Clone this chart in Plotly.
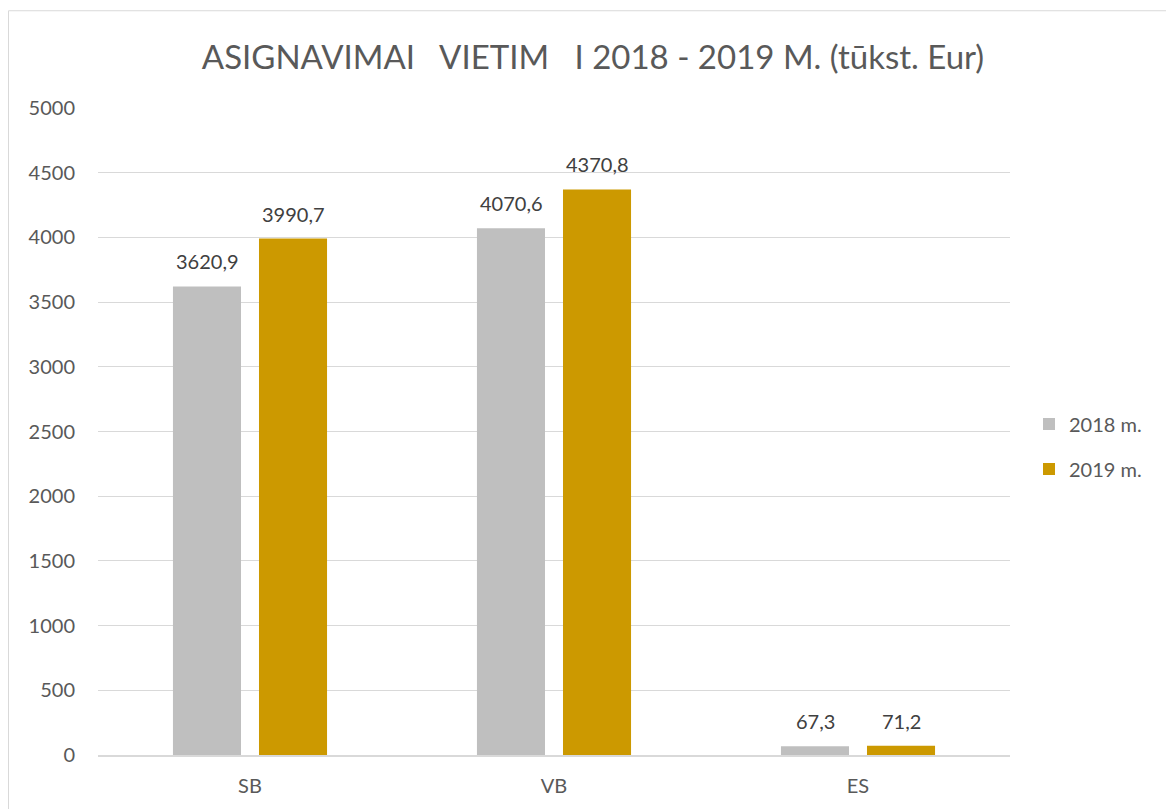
import plotly.graph_objects as go

categories = ["SB", "VB", "ES"]
series_names = ["2018 m.", "2019 m."]
values_2018 = [3620.9, 4070.6, 67.3]
values_2019 = [3990.7, 4370.8, 71.2]
colors = ["#bfbfbf", "#cc9900"]
tick_vals = [0, 500, 1000, 1500, 2000, 2500, 3000, 3500, 4000, 4500, 5000]

FONT = "Lato, Open Sans, sans-serif"

fig = go.Figure()
annotations = []
for i, (name, vals, col) in enumerate(zip(series_names, [values_2018, values_2019], colors)):
    fig.add_trace(go.Bar(
        x=categories, y=vals, name=name, marker=dict(color=col, line=dict(width=0)),
        legendgroup=name,
    ))
    for c, v in zip(categories, vals):
        annotations.append(dict(
            x=c, y=v, xref="x", yref="y", text=f"{v:.1f}".replace(".", ","),
            showarrow=False, xanchor="center", yanchor="bottom",
            xshift=(-43 if i == 0 else 43), yshift=11,
            font=dict(family=FONT, size=20, color="#404040"),
        ))

W, H = 1166, 801
ml, mr, mt, mb = 90, 164, 100, 49
pw = W - ml - mr
ph = H - mt - mb

fig.update_layout(
    width=W, height=H,
    margin=dict(l=ml, r=mr, t=mt, b=mb),
    paper_bgcolor="white", plot_bgcolor="white",
    barmode="group", bargap=0.434, bargroupgap=0.209,
    title=dict(text="ASIGNAVIMAI   VIETIM   I 2018 - 2019 M. (tūkst. Eur)",
               x=585 / W, xanchor="center", y=1 - 49 / H, yanchor="middle",
               font=dict(family=FONT, size=33, color="#595959")),
    font=dict(family=FONT, color="#595959"),
    legend=dict(x=(1021 - ml) / pw, xanchor="left", y=(H - mb - 441) / ph, yanchor="middle",
                font=dict(family=FONT, size=20, color="#595959"),
                itemwidth=30, traceorder="grouped", tracegroupgap=16),
    annotations=annotations,
    xaxis=dict(showgrid=False, showline=True, linecolor="#d9d9d9", linewidth=2,
               tickfont=dict(family=FONT, size=20, color="#595959"), ticks="",
               ticklabelstandoff=12),
    yaxis=dict(range=[0, 5000], tickvals=tick_vals, showgrid=True, gridcolor="#d9d9d9",
               gridwidth=1, zeroline=False, showline=False,
               tickfont=dict(family=FONT, size=20, color="#595959"), ticks="",
               ticklabelstandoff=22, tickformat="d"),
    shapes=[dict(type="rect", xref="paper", yref="paper",
                 x0=(0.5 - ml) / pw, x1=(1200 - ml) / pw,
                 y0=(H - mb - 830) / ph, y1=(H - mb - 2) / ph,
                 line=dict(color="#d9d9d9", width=1), fillcolor="rgba(0,0,0,0)", layer="below")],
)

fig.write_html("out.html")
